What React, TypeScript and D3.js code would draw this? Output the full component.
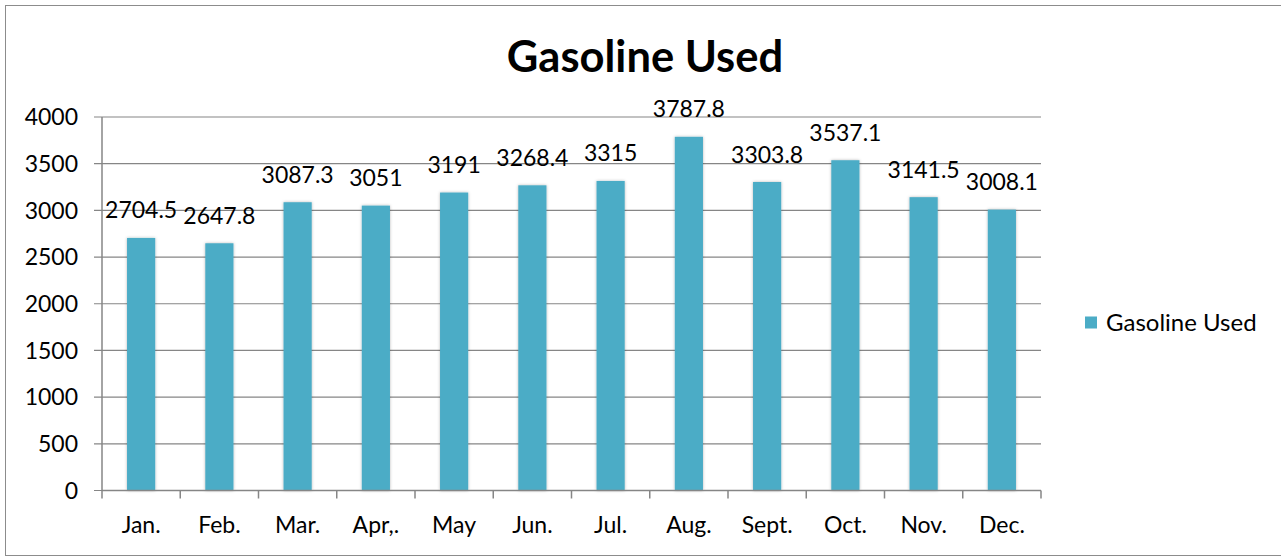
import React from "react";
import * as d3 from "d3";

const categories = ["Jan.", "Feb.", "Mar.", "Apr,.", "May", "Jun.", "Jul.", "Aug.", "Sept.", "Oct.", "Nov.", "Dec."];
const values = [2704.5, 2647.8, 3087.3, 3051, 3191, 3268.4, 3315, 3787.8, 3303.8, 3537.1, 3141.5, 3008.1];
const yTicks = [0, 500, 1000, 1500, 2000, 2500, 3000, 3500, 4000];
const seriesName = "Gasoline Used";
const title = "Gasoline Used";

const W = 1281;
const H = 557;
const FONT = "Lato, 'Open Sans', sans-serif";
const BAR = "#4BACC6";
const GRID = "#868686";

export default function App() {
  const x = d3.scaleBand<string>().domain(categories).range([102, 1041]).padding(0);
  const y = d3.scaleLinear().domain([0, 4000]).range([490.5, 117]);
  const bw = x.bandwidth() * 0.36;

  return (
    <svg width={W} height={H} style={{ position: "absolute", left: 0, top: 0, background: "#fff" }}>
      <defs>
        <filter id="sh" x="-30%" y="-10%" width="160%" height="120%">
          <feDropShadow dx="0" dy="0" stdDeviation="1.6" floodColor="#000" floodOpacity="0.28" />
        </filter>
      </defs>
      <rect x={5.5} y={5.5} width={W + 10} height={550} fill="#fff" stroke="#8c8c8c" strokeWidth={1} />
      <text x={645} y={72} textAnchor="middle" fontFamily={FONT} fontWeight="bold" fontSize={43.5} fill="#000">
        {title}
      </text>
      {/* gridlines */}
      {yTicks.map((t) => (
        <line key={"g" + t} x1={94} x2={1041} y1={y(t)} y2={y(t)} stroke={GRID} strokeWidth={1.2} />
      ))}
      {/* y axis */}
      <line x1={102} x2={102} y1={y(4000)} y2={y(0)} stroke={GRID} strokeWidth={1.5} />
      {yTicks.map((t) => (
        <text key={"yl" + t} x={78} y={y(t)} dy="0.36em" textAnchor="end" fontFamily={FONT} fontSize={23} fill="#000">
          {t}
        </text>
      ))}
      {/* bars */}
      {categories.map((c, i) => {
        const cx = (x(c) as number) + x.bandwidth() / 2;
        return (
          <rect key={"b" + c} x={cx - bw / 2} y={y(values[i])} width={bw} height={y(0) - y(values[i])} fill={BAR} filter="url(#sh)" />
        );
      })}
      {/* x axis */}
      <line x1={102} x2={1041} y1={y(0)} y2={y(0)} stroke={GRID} strokeWidth={1.5} />
      {[...categories.map((c) => x(c) as number), 1041].map((px, i) => (
        <line key={"xt" + i} x1={px} x2={px} y1={y(0)} y2={y(0) + 8} stroke={GRID} strokeWidth={1.5} />
      ))}
      {categories.map((c) => (
        <text key={"xl" + c} x={(x(c) as number) + x.bandwidth() / 2} y={533} textAnchor="middle" fontFamily={FONT} fontSize={23} fill="#000">
          {c}
        </text>
      ))}
      {/* data labels */}
      {categories.map((c, i) => (
        <text key={"dl" + c} x={(x(c) as number) + x.bandwidth() / 2} y={y(values[i]) - 19.5} textAnchor="middle" fontFamily={FONT} fontSize={23} fill="#000">
          {values[i]}
        </text>
      ))}
      {/* legend */}
      <rect x={1085} y={316.5} width={12} height={12} fill={BAR} />
      <text x={1106} y={322.5} dy="0.36em" fontFamily={FONT} fontSize={24} fill="#000">
        {seriesName}
      </text>
    </svg>
  );
}
